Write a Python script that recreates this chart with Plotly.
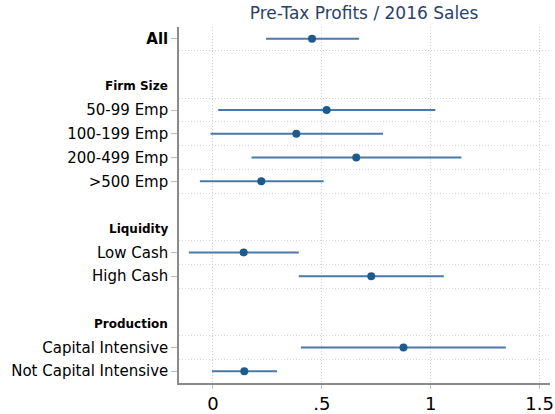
import plotly.graph_objects as go

# Estimativas e intervalos de confiança
labels = ["All", "50-99 Emp", "100-199 Emp", "200-499 Emp", ">500 Emp",
          "Low Cash", "High Cash", "Capital Intensive", "Not Capital Intensive"]
groups = ["", "Firm Size", "Firm Size", "Firm Size", "Firm Size",
          "Liquidity", "Liquidity", "Production", "Production"]
estimate = [0.455, 0.522, 0.383, 0.658, 0.222, 0.141, 0.727, 0.875, 0.144]
ci_low = [0.244, 0.024, -0.011, 0.177, -0.060, -0.111, 0.394, 0.404, -0.005]
ci_high = [0.671, 1.021, 0.781, 1.141, 0.508, 0.394, 1.060, 1.345, 0.294]

x_ticks = [0, 0.5, 1, 1.5]
x_ticklabels = ["0", ".5", "1", "1.5"]


def main():
    # posição de cada linha: linha em branco + cabeçalho a cada novo grupo
    pos, headers = [], []
    row, last = 0, None
    for g in groups:
        if g != last and g != "":
            if last is not None:
                row += 1
            headers.append((g, row))
            row += 1
        pos.append(row)
        row += 1
        last = g
    n_rows = row

    grid_rows = [p + 0.5 for p in pos] + [h[1] + 0.5 for h in headers]
    grid_rows = sorted(v for v in grid_rows if v < n_rows - 0.5)

    ticktext = ["<b>%s</b>" % l if i == 0 else l for i, l in enumerate(labels)]

    fig = go.Figure()
    fig.add_trace(go.Scatter(
        x=estimate, y=pos, mode="markers",
        marker=dict(color="#1f5a8f", size=8),
        error_x=dict(type="data", symmetric=False,
                     array=[h - e for h, e in zip(ci_high, estimate)],
                     arrayminus=[e - l for e, l in zip(estimate, ci_low)],
                     color="#4a78a8", thickness=2, width=0),
        showlegend=False,
    ))

    for name, r in headers:
        fig.add_annotation(x=0, xref="paper", xanchor="right", xshift=-9,
                           y=r, yref="y", text="<b>%s</b>" % name, showarrow=False,
                           font=dict(size=12, color="black"))

    grid = dict(gridcolor="#d4d4d4", griddash="1px,2px", gridwidth=1)

    fig.update_layout(
        width=555, height=414,
        margin=dict(l=179, r=5, t=27, b=31),
        plot_bgcolor="white", paper_bgcolor="white",
        font=dict(family="DejaVu Sans", color="black"),
        title=dict(text="Pre-Tax Profits / 2016 Sales", x=0.656, xanchor="center",
                   y=0.968, yanchor="middle",
                   font=dict(size=17, color="#2a3f6b")),
        xaxis=dict(range=[-0.156, 1.548], tickvals=x_ticks, ticktext=x_ticklabels,
                   showgrid=True, **grid, automargin=False,
                   zeroline=False, showline=True, linecolor="#8a8a8a", linewidth=1.5,
                   ticks="outside", ticklen=4, tickcolor="#bdbdbd",
                   tickfont=dict(size=18)),
        yaxis=dict(range=[n_rows - 0.5, -0.5], tickvals=pos, ticktext=ticktext,
                   showgrid=False, zeroline=False, showline=True, automargin=False,
                   linecolor="#8a8a8a", linewidth=1.5,
                   ticks="outside", ticklen=6, tickcolor="#bdbdbd",
                   tickfont=dict(size=15),
                   minor=dict(tickvals=grid_rows, showgrid=True, ticks="", **grid)),
    )

    # tira a margem padrão do <body> para a figura ocupar a janela toda
    fig.write_html("out.html", config={"displayModeBar": False},
                   post_script="document.body.style.margin='0';")


if __name__ == "__main__":
    main()
